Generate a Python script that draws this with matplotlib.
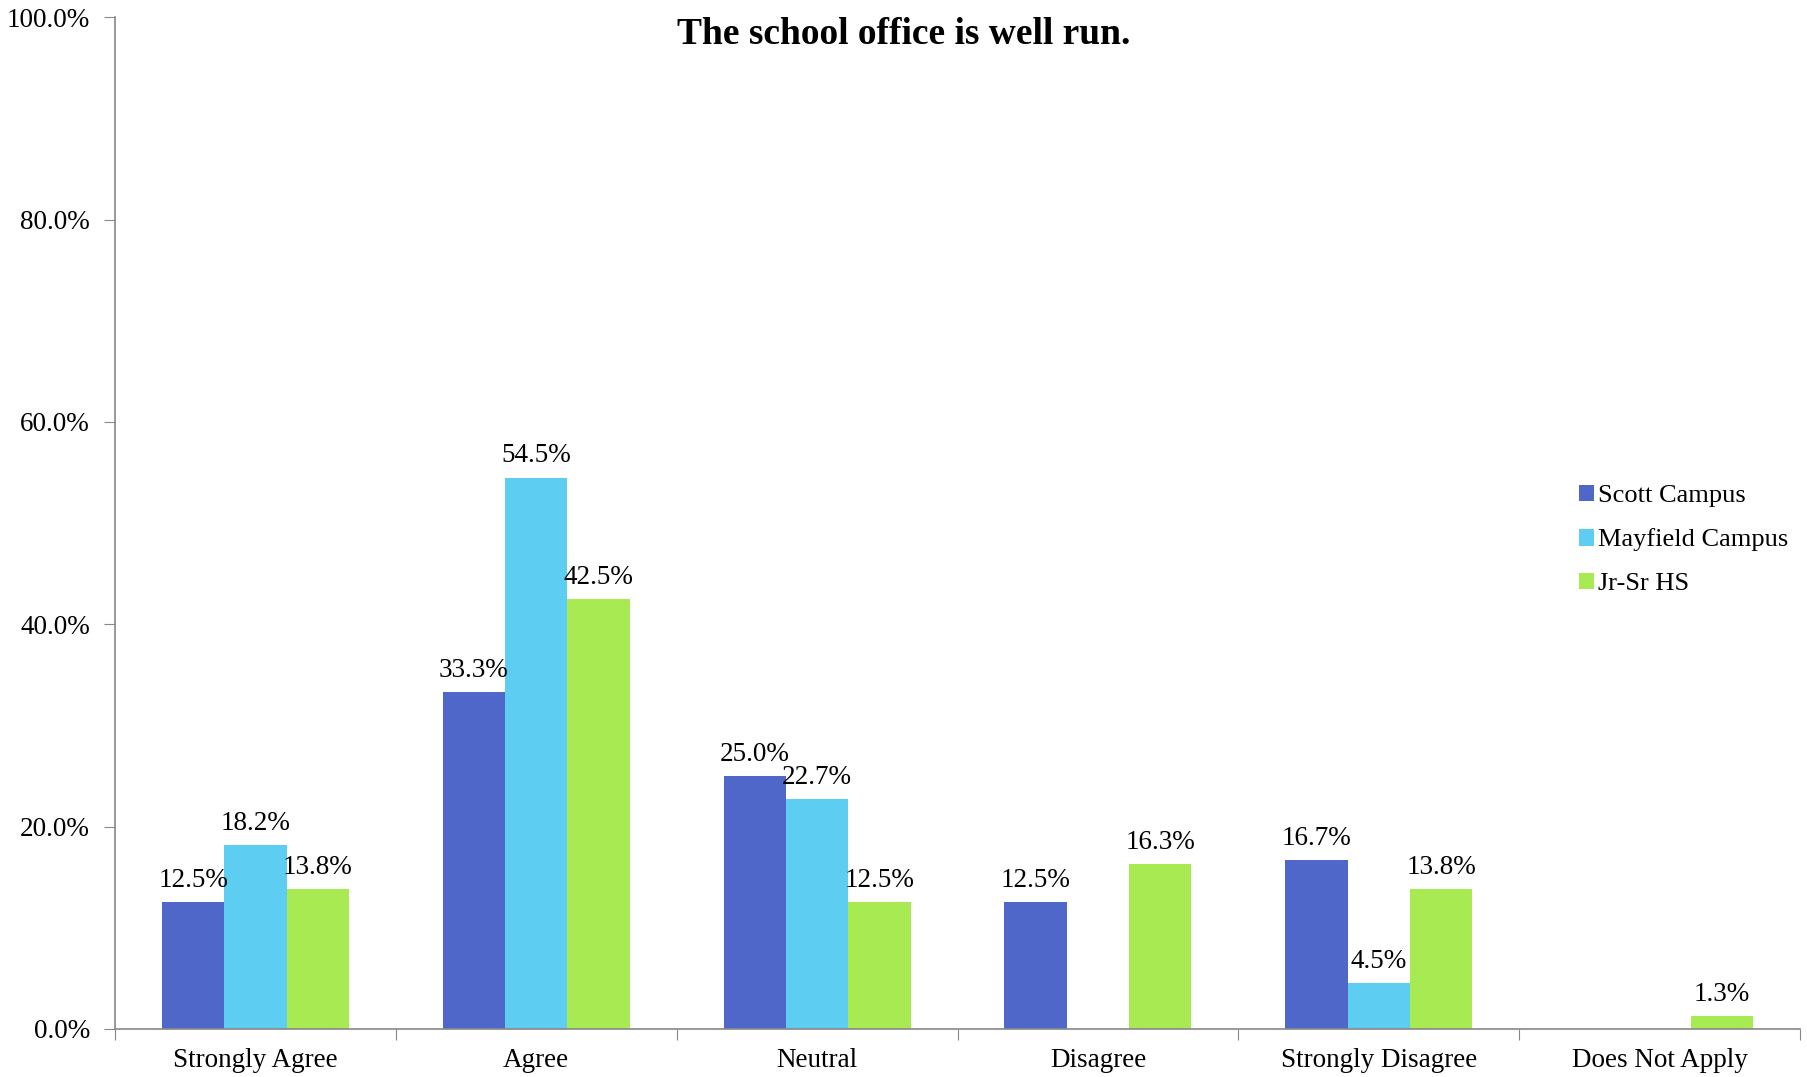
import matplotlib.pyplot as plt
import numpy as np

categories = ["Strongly Agree", "Agree", "Neutral", "Disagree", "Strongly Disagree", "Does Not Apply"]
scott = [12.5, 33.3, 25.0, 12.5, 16.7, 0.0]
mayfield = [18.2, 54.5, 22.7, 0.0, 4.5, 0.0]
jrsr = [13.8, 42.5, 12.5, 16.3, 13.8, 1.3]
series_names = ["Scott Campus", "Mayfield Campus", "Jr-Sr HS"]
colors = ["#4F67C8", "#5DCDF2", "#A8EA52"]

plt.rcParams['font.family'] = ['Liberation Serif', 'DejaVu Serif']

fig = plt.figure(figsize=(18.08, 10.77), dpi=100)
ax = fig.add_axes([0.0636, 0.0446, 0.932, 0.9394])

x = np.arange(len(categories))
w = 0.222
for i, (vals, name, c) in enumerate(zip([scott, mayfield, jrsr], series_names, colors)):
    pos = x + (i - 1) * w
    bars = ax.bar(pos, vals, w, color=c, label=name)
    for b, v in zip(bars, vals):
        if v > 0:
            ax.text(b.get_x() + b.get_width() / 2, v + 0.9, f"{v:.1f}%",
                    ha='center', va='bottom', fontsize=19.5)

ax.set_xlim(-0.5, len(categories) - 0.5)
ax.set_ylim(0, 100)
ax.set_yticks(np.arange(0, 101, 20))
ax.set_yticklabels([f"{t:.1f}%" for t in np.arange(0, 101, 20)], fontsize=19.5)

# category labels between boundary ticks
ax.set_xticks(np.arange(-0.5, len(categories), 1.0))
ax.set_xticklabels([])
ax.set_xticks(x, minor=True)
ax.set_xticklabels(categories, minor=True, fontsize=19.5)
ax.tick_params(axis='x', which='minor', length=0, pad=14)
ax.tick_params(axis='x', which='major', length=8, color='#888888', direction='out')
ax.tick_params(axis='y', length=8, color='#888888', pad=10)

for s in ['top', 'right']:
    ax.spines[s].set_visible(False)
for s in ['left', 'bottom']:
    ax.spines[s].set_color('#888888')
    ax.spines[s].set_linewidth(1.2)

fig.text(0.5, 0.968, "The school office is well run.", ha='center', va='center',
         fontsize=27, fontweight='bold')

ax.legend(loc='upper left', bbox_to_anchor=(0.86, 0.572), bbox_transform=fig.transFigure,
          frameon=False, fontsize=19, handlelength=0.6, handleheight=0.6,
          handletextpad=0.15, labelspacing=0.8)

fig.savefig("out.png", dpi=100)
